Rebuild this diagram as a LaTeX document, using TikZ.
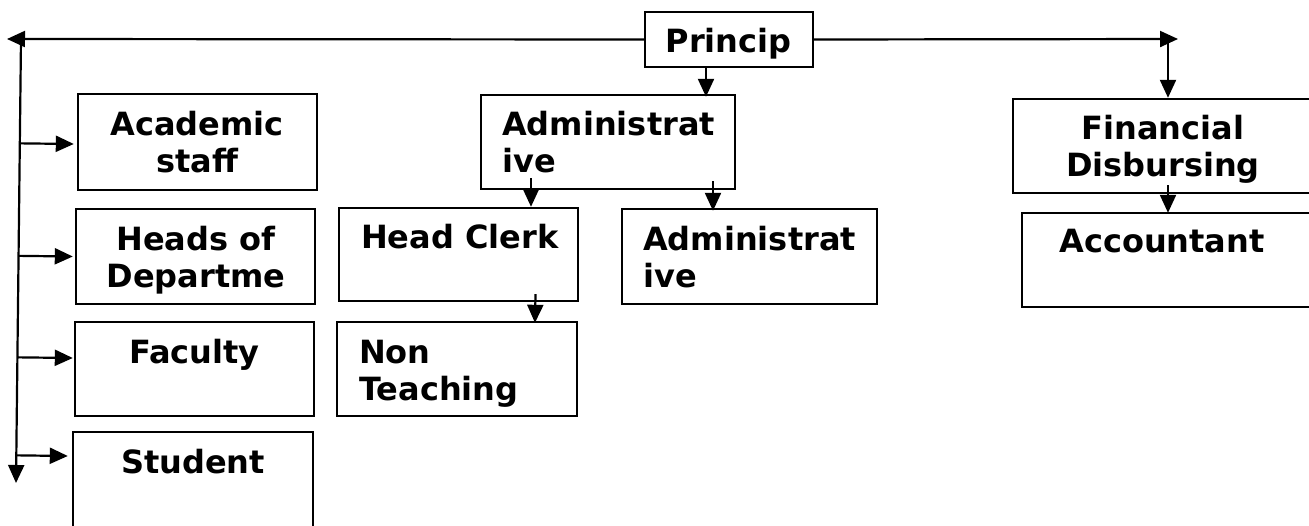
\documentclass[tikz,border=0pt]{standalone}
\usepackage{fontspec}
\setmainfont{DejaVu Sans}
\usetikzlibrary{arrows.meta,calc}
\tikzset{
  box/.style={draw=black, line width=2.4pt, rectangle, inner sep=0pt},
  txt/.style={inner sep=0pt, font=\fontsize{32}{37}\selectfont\bfseries},
  arr/.style={line width=2.2pt, -{Triangle[length=18pt,width=16pt]}},
}
\begin{document}
\begin{tikzpicture}[x=1pt,y=-1pt]
\useasboundingbox (0,0) rectangle (1309,525);
\clip (0,0) rectangle (1309,525);
\fill[white] (0,0) rectangle (1309,525);
% boxes
\node[box, minimum width=168pt, minimum height=55pt] (princ) at (729,39.5) {};
\node[box, minimum width=239pt, minimum height=96pt] (acad) at (197.5,142) {};
\node[box, minimum width=239pt, minimum height=95pt] (heads) at (195.5,256.5) {};
\node[box, minimum width=239pt, minimum height=94pt] (fac) at (194.5,369) {};
\node[box, minimum width=240pt, minimum height=128pt] (stud) at (193,496) {};
\node[box, minimum width=254pt, minimum height=94pt] (adm) at (608,142) {};
\node[box, minimum width=239pt, minimum height=93pt] (clerk) at (458.5,254.5) {};
\node[box, minimum width=255pt, minimum height=95pt] (adm2) at (749.5,256.5) {};
\node[box, minimum width=240pt, minimum height=94pt] (nont) at (457,369) {};
\node[box, minimum width=317pt, minimum height=94pt] (fin) at (1171.5,146) {};
\node[box, minimum width=298pt, minimum height=94pt] (acct) at (1171,260) {};
% texts (base anchor of a multi-line node = baseline of its last line)
\node[txt, anchor=base] (tprinc) at (728.5,52) {Princip};
\node[txt, anchor=base, align=center] (tacad) at (197,172) {Academic\\staff};
\node[txt, anchor=base, align=center] (theads) at (196,287) {Heads of\\Departme};
\node[txt, anchor=base] (tfac) at (194.5,363) {Faculty};
\node[txt, anchor=base] (tstud) at (193,473) {Student};
\node[txt, anchor=base west, align=left] (tadm) at (502,172) {Administrat\\ive};
\node[txt, anchor=base west] (tclerk) at (361,248) {Head Clerk};
\node[txt, anchor=base west, align=left] (tadm2) at (643,287) {Administrat\\ive};
\node[txt, anchor=base west, align=left] (tnont) at (359,400) {Non\\Teaching};
\node[txt, anchor=base, align=center] (tfin) at (1163,176) {Financial\\Disbursing};
\node[txt, anchor=base] (tacct) at (1162,252) {Accountant};
% free ends
\coordinate (tl) at (7,39);
\coordinate (vtop) at (21,39);
\coordinate (vbot) at (16,483);
\coordinate (tr) at (1178,39);
% connectors
\draw[arr] (princ.west) -- (tl);
\draw[arr] (vtop) -- (vbot);
\draw[arr] ($(vtop)!([yshift=-2pt]acad.west)!(vbot)$) -- ([xshift=-3pt,yshift=-2pt]acad.west);
\draw[arr] ($(vtop)!(heads.west)!(vbot)$) -- ([xshift=-2pt]heads.west);
\draw[arr] ($(vtop)!([yshift=11pt]fac.west)!(vbot)$) -- ([xshift=-1pt,yshift=11pt]fac.west);
\draw[arr] ($(vtop)!([yshift=40pt]stud.west)!(vbot)$) -- ([xshift=-4pt,yshift=40pt]stud.west);
\draw[arr] (princ.east) -- (tr);
\draw[arr] ([xshift=-3.5pt]fin.north |- tr) -- ([xshift=-3.5pt]fin.north);
\draw[arr, shorten >=-3pt] ([xshift=-23pt]princ.south) -- ([xshift=-23pt]princ.south |- adm.north);
\draw[arr] ([shift={(-77pt,12pt)}]adm.south) -- ([xshift=72.5pt]clerk.north);
\draw[arr, shorten >=-3pt] ([shift={(105pt,9pt)}]adm.south) -- ([xshift=-36.5pt]adm2.north);
\draw[arr, shorten >=-2pt] ([shift={(77pt,8pt)}]clerk.south) -- ([xshift=78pt]nont.north);
\draw[arr, shorten >=-1pt] ([shift={(-3.5pt,9pt)}]fin.south) -- ([xshift=-3pt]acct.north);
\end{tikzpicture}
\end{document}
